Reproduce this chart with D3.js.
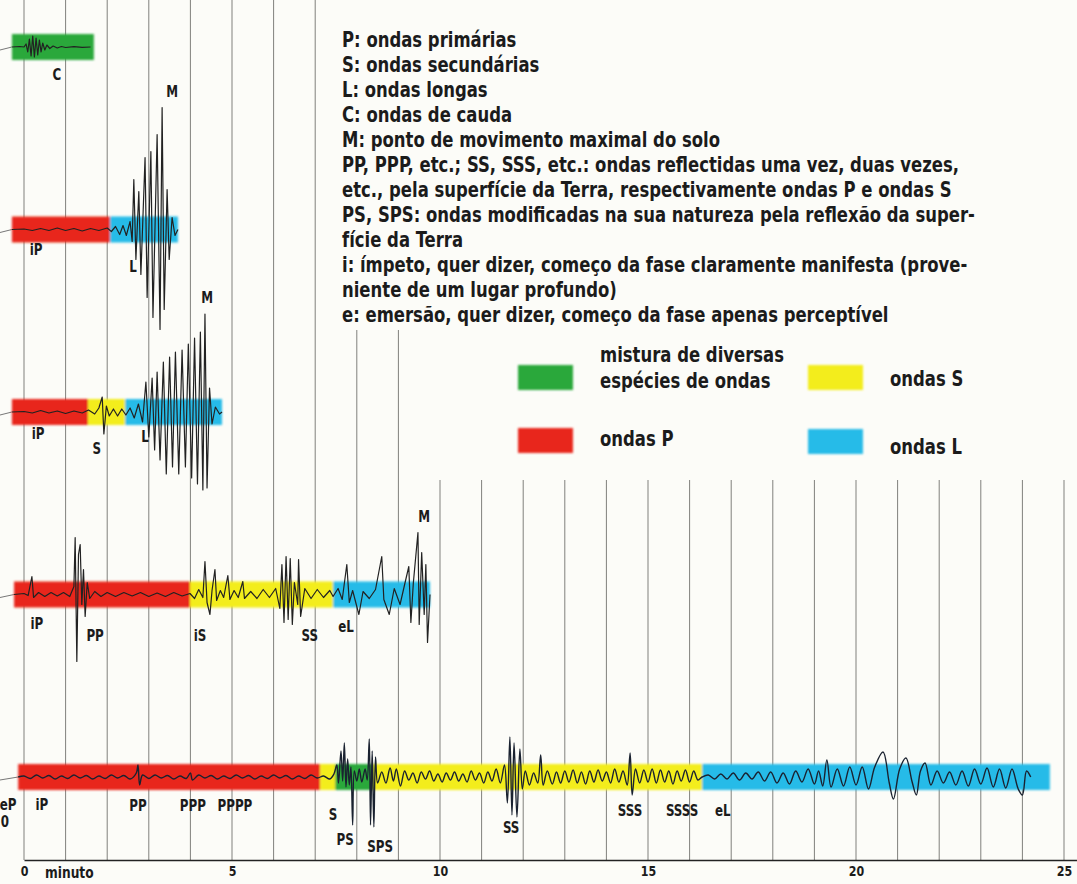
<!DOCTYPE html>
<html>
<head>
<meta charset="utf-8">
<script src="https://cdn.jsdelivr.net/npm/d3@7"></script>
<style>
  html, body { margin: 0; padding: 0; background: #fcfcf8; }
  svg { display: block; }
  text {
    font-family: "Liberation Sans Narrow", "DejaVu Sans Condensed", "Roboto Condensed", "Liberation Sans", sans-serif;
    font-weight: bold;
    fill: #1b1b1b;
  }
</style>
</head>
<body>
<div id="chart"></div>
<script>
// ---- data -----------------------------------------------------------------

// five seismograms, top to bottom
const rowNames = ['r1', 'r2', 'r3', 'r4', 'r5'];

// coloured phase bars: [start minute, end minute, wave type]
const phases1 = [[-0.29, 1.68, 'mix']];
const phases2 = [[-0.29, 2.07, 'P'], [2.07, 3.7, 'L']];
const phases3 = [[-0.29, 1.54, 'P'], [1.54, 2.43, 'S'], [2.43, 4.76, 'L']];
const phases4 = [[-0.24, 3.99, 'P'], [3.99, 7.43, 'S'], [7.43, 9.76, 'L']];
const phases5 = [[-0.14, 7.12, 'P'], [7.12, 7.48, 'S'], [7.48, 8.39, 'mix'], [8.39, 16.3, 'S'], [16.3, 24.66, 'L']];

// trace samples: [minute, deflection]
const trace1 = [[-0.29,0],[-0.1,0.5],[0,0],[0.05,3],[0.09,-5],[0.13,8],[0.17,-9],[0.21,11],[0.25,-10],[0.29,9],[0.33,-8],[0.37,7],[0.41,-5],[0.45,4],[0.5,-3],[0.55,2],[0.62,-1.5],[0.7,1],[0.8,-1],[0.9,0.5],[1.0,-0.5],[1.2,0.3],[1.4,-0.3],[1.6,0]];

const trace2 = [[-0.29,0],[0,0.5],[0.2,-1],[0.4,1],[0.6,-1],[0.8,1.5],[1.0,-1],[1.2,1],[1.4,-1.5],[1.6,1],[1.8,-1],[2.0,1.5],[2.1,-2],[2.2,3],[2.3,-5],[2.38,4],[2.46,-6],[2.55,8],[2.6,-12],[2.64,50],[2.69,-30],[2.76,38],[2.81,-45],[2.91,72],[2.96,-68],[3.05,78],[3.1,-88],[3.2,95],[3.27,-100],[3.32,122],[3.37,-80],[3.44,40],[3.49,-30],[3.56,12],[3.63,-6],[3.7,0]];

const trace3 = [[-0.29,0],[0,0.5],[0.2,-1],[0.4,1.5],[0.6,-1],[0.8,1],[1.0,-1.5],[1.2,1],[1.4,-1],[1.55,2],[1.7,-2],[1.8,4],[1.88,15],[1.92,-22],[1.98,6],[2.05,-4],[2.15,3],[2.25,-4],[2.35,3],[2.45,-3],[2.55,4],[2.65,-6],[2.75,8],[2.85,-10],[2.93,30],[3.0,-25],[3.08,34],[3.14,-38],[3.2,40],[3.27,-48],[3.35,50],[3.42,-62],[3.5,55],[3.57,-55],[3.64,60],[3.72,-62],[3.8,62],[3.88,-55],[3.95,68],[4.03,-66],[4.1,74],[4.17,-72],[4.24,80],[4.3,-78],[4.35,98],[4.4,-76],[4.46,24],[4.52,-12],[4.6,5],[4.7,-2],[4.76,0]];

const trace4 = [[-0.24,0],[0,1],[0.1,-1],[0.19,18],[0.23,-3],[0.35,2],[0.5,-2],[0.65,2],[0.8,-1.5],[0.95,2],[1.1,-2],[1.2,8],[1.23,57],[1.27,-67],[1.31,40],[1.35,50],[1.39,-10],[1.43,25],[1.47,-22],[1.52,12],[1.58,-4],[1.7,3],[1.85,-2],[2.0,2],[2.2,-2],[2.4,2],[2.6,-1.5],[2.8,2],[3.0,-2],[3.2,1.5],[3.4,-2],[3.6,2],[3.8,-1.5],[3.99,1],[4.1,-4],[4.2,5],[4.3,-3],[4.35,33],[4.4,-8],[4.47,-20],[4.52,4],[4.59,25],[4.63,-6],[4.72,4],[4.8,-3],[4.9,19],[4.95,-5],[5.05,4],[5.15,-3],[5.26,13],[5.3,-4],[5.45,3],[5.6,-4],[5.75,5],[5.9,-3],[6.05,6],[6.15,-14],[6.2,30],[6.25,-28],[6.3,38],[6.35,-25],[6.4,36],[6.45,-30],[6.5,12],[6.58,-10],[6.6,35],[6.65,-22],[6.75,6],[6.9,-4],[7.05,5],[7.2,-3],[7.35,4],[7.43,-2],[7.55,6],[7.65,-5],[7.76,30],[7.82,-8],[7.9,4],[8.05,-20],[8.15,3],[8.3,-4],[8.45,5],[8.6,38],[8.65,-5],[8.78,-20],[8.9,6],[9.04,-10],[9.15,10],[9.25,28],[9.3,-28],[9.36,12],[9.47,62],[9.5,-30],[9.56,42],[9.62,-20],[9.66,30],[9.7,-48],[9.76,0]];

const trace5 = [[-0.14,0],[0,1],[0.15,-1.5],[0.3,2],[0.45,-1],[0.6,1.5],[0.75,-2],[0.9,1],[1.05,-1.5],[1.2,2],[1.35,-1],[1.5,1.5],[1.65,-2],[1.8,1],[1.95,-1.5],[2.1,2],[2.25,-1],[2.4,1.5],[2.55,-2],[2.7,4],[2.74,12],[2.78,-8],[2.85,2],[3.0,-1.5],[3.15,2],[3.3,-1],[3.45,1.5],[3.6,-2],[3.75,1],[3.9,-1.5],[4.0,4],[4.05,-3],[4.2,2],[4.35,-1],[4.5,1.5],[4.65,-2],[4.8,1],[4.95,-1.5],[5.1,2],[5.25,-1],[5.4,1.5],[5.55,-2],[5.7,1],[5.85,-1.5],[6.0,2],[6.15,-1],[6.3,1.5],[6.45,-2],[6.6,1],[6.75,-1.5],[6.9,2],[7.05,-1],
  [7.2,1],[7.35,-2],[7.45,3],[7.52,12],[7.56,-6],[7.62,26],[7.66,-4],[7.7,34],[7.74,-10],[7.78,18],[7.82,-8],[7.86,10],[7.9,-48],[7.94,6],[8.0,-4],[8.06,8],[8.12,-5],[8.2,8],[8.25,-3],[8.3,38],[8.33,-48],[8.37,26],[8.41,-50],[8.45,20],[8.5,-6],
  [8.6,5],[8.7,-6],[8.8,9],[8.88,-4],[8.95,8],[9.05,-9],[9.15,6],[9.25,-3],[9.35,4],[9.45,-6],[9.55,5],[9.65,-2],[9.75,6],[9.85,-4],[9.95,3],[10.05,-5],[10.15,4],[10.25,-3],[10.35,5],[10.45,-4],[10.55,3],[10.65,-5],[10.75,6],[10.85,-3],[10.95,4],[11.05,-6],[11.15,5],[11.25,-4],[11.35,8],[11.45,-6],[11.55,12],[11.62,-26],[11.68,40],[11.73,-38],[11.78,34],[11.85,-40],[11.92,28],[11.98,-12],[12.05,6],[12.15,-8],[12.25,4],[12.35,-6],[12.42,22],[12.48,-8],[12.58,6],[12.7,-7],[12.8,5],[12.9,-6],[13.0,6],[13.1,-5],[13.2,7],[13.3,-6],[13.4,5],[13.5,-7],[13.6,6],[13.7,-5],[13.8,7],[13.9,-4],[14.0,5],[14.1,-6],[14.2,8],[14.3,-5],[14.4,6],[14.5,-8],[14.57,24],[14.62,-18],[14.7,8],[14.8,-6],[14.9,7],[15.0,-5],[15.1,8],[15.2,-6],[15.3,7],[15.4,-5],[15.5,6],[15.6,-7],[15.7,6],[15.8,-4],[15.9,7],[16.0,-5],[16.1,6],[16.2,-3],[16.3,0],
  [16.45,2],[16.6,-2],[16.75,3],[16.9,-2],[17.05,4],[17.2,-3],[17.35,4],[17.5,-2],[17.65,5],[17.8,-4],[17.95,5],[18.1,-6],[18.25,4],[18.4,-7],[18.55,6],[18.7,-5],[18.85,8],[19.0,-7],[19.1,6],[19.2,-9],[19.3,17],[19.4,-10],[19.55,8],[19.7,-9],[19.85,10],[20.0,-8],[20.15,10],[20.3,-12],[20.45,10],[20.65,25],[20.8,-6],[20.9,-22],[21.05,8],[21.2,19],[21.35,-5],[21.45,-18],[21.55,6],[21.66,14],[21.8,-8],[21.95,6],[22.1,-6],[22.25,5],[22.4,-8],[22.55,6],[22.7,-9],[22.85,8],[23.0,-7],[23.15,9],[23.3,-10],[23.45,8],[23.6,-11],[23.75,8],[23.9,-12],[24.0,-18],[24.1,6],[24.2,0]];

// phase labels: [text, minute, depth below the bar]  ('peak' = above the largest swing)
const labels1 = [['C', 0.79, 2.8]];
const labels2 = [['iP', 0.29, 2.0], ['L', 2.62, 3.7], ['M', 3.56, 'peak']];
const labels3 = [['iP', 0.34, 2.2], ['S', 1.75, 3.7], ['L', 2.91, 2.5], ['M', 4.4, 'peak']];
const labels4 = [['iP', 0.31, 2.9], ['PP', 1.71, 4.1], ['iS', 4.23, 4.1], ['SS', 6.87, 4.1], ['eL', 7.74, 3.2], ['M', 9.62, 'peak']];
const labels5 = [['eP', -0.38, 2.8], ['0', -0.46, 4.5], ['iP', 0.43, 2.8], ['PP', 2.74, 2.9], ['PPP', 4.06, 2.9], ['PPPP', 5.07, 2.9], ['S', 7.43, 3.8], ['PS', 7.72, 6.3], ['SPS', 8.56, 7.0], ['SS', 11.71, 5.1], ['SSS', 14.57, 3.4], ['SSSS', 15.82, 3.4], ['eL', 16.8, 3.4]];

// time axis
const tickValues = [0, 5, 10, 15, 20, 25];
const tickLabels = ['0', '5', '10', '15', '20', '25'];
const axisTitle = 'minuto';

// legend
const waveTypes = ['mix', 'P', 'S', 'L'];
const waveColors = ['#2aa83a', '#e8281c', '#f3ed1c', '#27bbe8'];
const legendTexts = [['mistura de diversas', 'espécies de ondas'], ['ondas P'], ['ondas S'], ['ondas L']];

// explanatory notes
const notes = [
  'P: ondas primárias',
  'S: ondas secundárias',
  'L: ondas longas',
  'C: ondas de cauda',
  'M: ponto de movimento maximal do solo',
  'PP, PPP, etc.; SS, SSS, etc.: ondas reflectidas uma vez, duas vezes,',
  'etc., pela superfície da Terra, respectivamente ondas P e ondas S',
  'PS, SPS: ondas modificadas na sua natureza pela reflexão da super-',
  'fície da Terra',
  'i: ímpeto, quer dizer, começo da fase claramente manifesta (prove-',
  'niente de um lugar profundo)',
  'e: emersão, quer dizer, começo da fase apenas perceptível'
];

// ---- drawing --------------------------------------------------------------

const width = 1077, height = 884;
const axisY = 860;
const barH = 26;

const rows = rowNames.map((name, i) => ({
  name,
  phases: [phases1, phases2, phases3, phases4, phases5][i],
  trace: [trace1, trace2, trace3, trace4, trace5][i],
  labels: [labels1, labels2, labels3, labels4, labels5][i]
}));

const svg = d3.select('#chart').append('svg')
  .attr('width', width)
  .attr('height', height);

svg.append('rect').attr('width', width).attr('height', height).attr('fill', '#fcfcf8');

const defs = svg.append('defs');
defs.append('filter').attr('id', 'soft')
  .attr('x', '-5%').attr('y', '-20%').attr('width', '110%').attr('height', '140%')
  .append('feGaussianBlur').attr('stdDeviation', 0.9);

const x = d3.scaleLinear().domain([0, 25]).range([24, 1064]);
const y = d3.scalePoint().domain(rowNames).range([47, 777]);
const amp = d3.scaleLinear().domain([-100, 100]).range([100, -100]);
const color = d3.scaleOrdinal().domain(waveTypes).range(waveColors);

// squeeze wide fallback glyphs into the narrow bold look of the print
function narrow(sel, k) {
  sel.each(function () {
    const w = this.getComputedTextLength();
    d3.select(this).attr('textLength', w * k).attr('lengthAdjust', 'spacingAndGlyphs');
  });
}

// minute grid; it stops short of the text block in the upper right
const gridTop = m => (m <= 7 ? 0 : m <= 9 ? 330 : 480);
svg.append('g')
  .selectAll('line')
  .data(d3.range(0, 26))
  .join('line')
  .attr('x1', d => x(d)).attr('x2', d => x(d))
  .attr('y1', d => gridTop(d)).attr('y2', axisY)
  .attr('stroke', '#80807c')
  .attr('stroke-width', 1);

// axis
const axisScale = x.copy().domain([0, 25.3]).range([x(0), x(25.3)]);
const axis = svg.append('g')
  .attr('transform', `translate(0,${axisY})`)
  .call(d3.axisBottom(axisScale)
    .tickValues(tickValues)
    .tickFormat((d, i) => tickLabels[i])
    .tickSize(0)
    .tickPadding(6));
axis.select('.domain').attr('stroke', '#222').attr('stroke-width', 1.6);
axis.selectAll('text')
  .attr('fill', '#1b1b1b')
  .style('font-size', '14px');
narrow(axis.selectAll('text'), 0.88);
narrow(svg.append('text')
  .attr('x', x(0) + 21)
  .attr('y', axisY + 18)
  .style('font-size', '16px')
  .text(axisTitle), 0.85);

// seismograms
const line = d3.line()
  .x(d => x(d[0]))
  .y(d => amp(d[1]));

rows.forEach((row, i) => {
  const base = y(row.name);
  const g = svg.append('g').attr('transform', `translate(0,${base})`);

  // little lead-in stroke at the left edge
  g.append('line')
    .attr('x1', 0).attr('y1', 3)
    .attr('x2', x(row.phases[0][0])).attr('y2', 0)
    .attr('stroke', '#777').attr('stroke-width', 1);

  g.append('g')
    .attr('filter', 'url(#soft)')
    .selectAll('rect')
    .data(row.phases)
    .join('rect')
    .attr('x', d => x(d[0]))
    .attr('width', d => x(d[1]) - x(d[0]))
    .attr('y', -barH / 2)
    .attr('height', barH)
    .attr('fill', d => color(d[2]));

  g.append('path')
    .datum(row.trace)
    .attr('fill', 'none')
    .attr('stroke', i === 4 ? '#1a2230' : '#222')
    .attr('stroke-width', i === 4 ? 1.4 : 1.2)
    .attr('stroke-linejoin', 'round')
    .attr('d', i === 4 ? line.curve(d3.curveCatmullRom.alpha(0.5))(row.trace) : line.curve(d3.curveLinear)(row.trace));

  const peak = d3.max(row.trace, d => d[1]);
  const lab = g.append('g')
    .selectAll('text')
    .data(row.labels)
    .join('text')
    .attr('x', d => x(d[1]))
    .attr('y', d => d[2] === 'peak' ? amp(peak) - 16 : d[2] * 10)
    .attr('text-anchor', 'middle')
    .attr('dominant-baseline', 'central')
    .style('font-size', '15px')
    .text(d => d[0]);
  narrow(lab, 0.88);
});

// notes block
const notesX = 342, notesTop = 47, noteGap = 25, colRight = 1071;
const noteTexts = svg.append('g').selectAll('text')
  .data(notes)
  .join('text')
  .attr('x', notesX)
  .attr('y', (d, i) => notesTop + i * noteGap)
  .style('font-size', '21px')
  .text(d => d);

// scale the type so that line 5 runs as wide as in the print,
// and justify the long lines to the column edge
const refW = noteTexts.filter((d, i) => i === 4).node().getComputedTextLength();
const squeeze = 378 / refW;
noteTexts.each(function () {
  const w = this.getComputedTextLength() * squeeze;
  const target = w > 660 ? colRight - notesX : w;
  d3.select(this).attr('textLength', target).attr('lengthAdjust', 'spacingAndGlyphs');
});

// legend
const legendPos = [[518, 365], [518, 428], [808, 365], [808, 429]];
const legend = svg.append('g');
waveTypes.forEach((t, i) => {
  const [lx, ly] = legendPos[i];
  legend.append('rect')
    .attr('x', lx).attr('y', ly)
    .attr('width', 55).attr('height', 25)
    .attr('fill', color(t))
    .attr('filter', 'url(#soft)');
  const lines = legendTexts[i];
  lines.forEach((s, j) => {
    const tx = legend.append('text')
      .attr('x', lx + 82)
      .attr('y', lines.length > 1 ? ly - 3 + j * 26 : ly + 18 + (i === 2 ? 3 : i === 3 ? 7 : 0))
      .style('font-size', '21px')
      .text(s);
    narrow(tx, squeeze);
  });
});
</script>
</body>
</html>
